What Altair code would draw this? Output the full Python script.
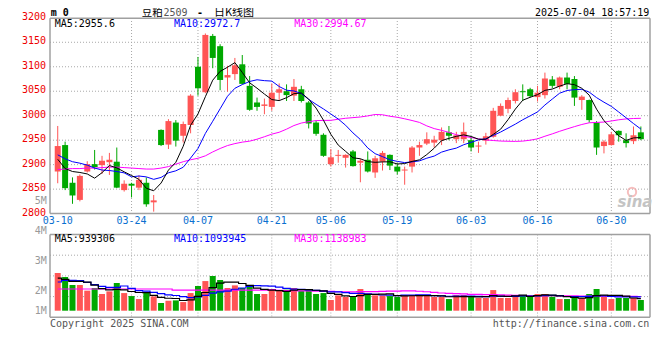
import altair as alt
import pandas as pd

# ---------------- data ----------------
tick_idx = [0, 10, 19, 29, 37, 46, 56, 65, 75]
tick_labels = ["03-10", "03-24", "04-07", "04-21", "05-06", "05-19", "06-03", "06-16", "06-30"]
grid_idx = [10, 19, 29, 37, 46, 56, 65, 75]
price_ticks = [2800, 2850, 2900, 2950, 3000, 3050, 3100, 3150, 3200]
price_grid = [2850, 2900, 2950, 3000, 3050, 3100, 3150]
vol_label_vals = [1, 2, 3, 4, 5]
vol_label_text = ["1M", "2M", "3M", "4M", "5M"]

opens = [2886, 2940, 2863, 2828, 2886, 2901, 2899, 2905, 2906, 2848,
         2861, 2853, 2863, 2823, 2971, 2941, 2986, 2959, 2981, 3100,
         3048, 3163, 3142, 3078, 3085, 3105, 3061, 3027, 3020, 3018,
         3047, 3050, 3041, 3054, 3027, 2986, 2961, 2901, 2918, 2914,
         2927, 2904, 2910, 2884, 2906, 2920, 2896, 2888, 2896, 2935,
         2943, 2945, 2950, 2966, 2952, 2952, 2950, 2937, 2949, 2957,
         3000, 3014, 3030, 3050, 3054, 3038, 3042, 3074, 3059, 3078,
         3075, 3032, 3032, 2986, 2938, 2940, 2969, 2950, 2948, 2966]
highs = [2979, 2947, 2874, 2880, 2907, 2930, 2918, 2924, 2935, 2868,
         2863, 2878, 2874, 2838, 2972, 2993, 2991, 2988, 3044, 3120,
         3168, 3167, 3146, 3102, 3118, 3124, 3081, 3037, 3035, 3066,
         3066, 3064, 3075, 3061, 3030, 2990, 2964, 2932, 2930, 2921,
         2930, 2912, 2927, 2918, 2928, 2921, 2903, 2896, 2938, 2947,
         2966, 2959, 2976, 2979, 2967, 2986, 2957, 2947, 2965, 3016,
         3025, 3037, 3054, 3064, 3057, 3061, 3088, 3081, 3080, 3088,
         3081, 3042, 3033, 2989, 2950, 2967, 2970, 2964, 2978, 2978]
lows = [2862, 2848, 2820, 2825, 2884, 2890, 2881, 2879, 2852, 2845,
        2833, 2848, 2814, 2804, 2938, 2932, 2937, 2945, 2964, 3041,
        3046, 3097, 3052, 3049, 3073, 3064, 3010, 3010, 3003, 3010,
        3030, 3030, 3030, 3027, 2974, 2959, 2916, 2896, 2904, 2894,
        2896, 2864, 2884, 2873, 2888, 2889, 2880, 2859, 2884, 2918,
        2940, 2935, 2940, 2950, 2944, 2944, 2927, 2924, 2941, 2955,
        2999, 3005, 3025, 3030, 3037, 3029, 3035, 3056, 3054, 3054,
        3020, 3012, 2986, 2920, 2923, 2939, 2947, 2935, 2942, 2950]
closes = [2938, 2852, 2837, 2877, 2901, 2895, 2908, 2910, 2853, 2861,
          2857, 2869, 2819, 2827, 2940, 2989, 2949, 2983, 3041, 3056,
          3165, 3118, 3073, 3083, 3103, 3065, 3012, 3018, 3023, 3047,
          3054, 3042, 3059, 3030, 2984, 2963, 2918, 2915, 2920, 2920,
          2897, 2908, 2886, 2913, 2924, 2898, 2886, 2890, 2935, 2940,
          2952, 2951, 2967, 2959, 2960, 2967, 2935, 2939, 2958, 3010,
          3020, 3032, 3048, 3048, 3040, 3047, 3076, 3061, 3078, 3065,
          3037, 3039, 2991, 2935, 2947, 2962, 2960, 2944, 2960, 2952]
# volume, thousand lots
volumes = [2967, 2655, 2022, 2022, 1578, 1786, 1314, 1521, 2183, 1389,
           1153, 917, 1474, 1125, 605, 784, 813, 680, 1389, 1947,
           2334, 2731, 2419, 1786, 1994, 1786, 1994, 1314, 1314, 1710,
           1578, 1654, 1786, 1625, 1682, 1314, 1389, 841, 1210, 1077,
           1077, 1710, 1314, 1210, 1210, 1153, 1077, 1210, 1238, 1238,
           1181, 1077, 1077, 917, 1238, 1238, 1077, 1002, 1002, 1625,
           1002, 1002, 1238, 1238, 1153, 1314, 1314, 1106, 917, 917,
           1002, 1002, 1314, 1710, 1077, 917, 1002, 1002, 1002, 841]

# moving-average values at the start of the window (read from the picture,
# they depend on sessions before 03-10)
ma5_head = [2911, 2892, 2886, 2884]
ma10_head = [2920, 2912, 2906, 2903, 2899, 2893, 2889, 2888, 2886]
ma30_head = [2890, 2891, 2892, 2892, 2893, 2893, 2894, 2895, 2895, 2894,
             2893, 2892, 2891, 2891, 2893, 2896, 2901, 2906, 2910, 2913,
             2918, 2926, 2933, 2939, 2943, 2946, 2948, 2952, 2957]
vma5_head = [2570, 2466, 2306, 2306]
vma10_head = [2259, 2391, 2391, 2363, 2230, 2051, 1918, 1833, 1833]
vma30_head = [1707] * 16 + [1620] * 13


def with_head(values, head, window):
    rolled = pd.Series(values, dtype=float).rolling(window).mean().tolist()
    return list(head) + rolled[len(head):]


n = len(closes)
df = pd.DataFrame({
    "i": list(range(n)),
    "o": opens, "h": highs, "l": lows, "c": closes, "vol": volumes,
})
df["dir"] = ["up" if c >= o else "down" for o, c in zip(opens, closes)]
df["top"] = [max(o, c) for o, c in zip(opens, closes)]
df["bot"] = [min(o, c) for o, c in zip(opens, closes)]
df["v0"] = 0
df["ma5"] = with_head(closes, ma5_head, 5)
df["ma10"] = with_head(closes, ma10_head, 10)
df["ma30"] = with_head(closes, ma30_head, 30)
df["vma5"] = with_head(volumes, vma5_head, 5)
df["vma10"] = with_head(volumes, vma10_head, 10)
df["vma30"] = with_head(volumes, vma30_head, 30)

# ---------------- styling ----------------
RED = "#ff5555"
GREEN = "#00a800"
GRID = "#a8a8a8"
BORDER = "#a0a0a0"
MONO = "DejaVu Sans Mono"
CJK = "Noto Sans CJK SC"
W, H = 600, 300
P_BOTTOM, V_TOP, V_BOTTOM = 195.6, 216.5, 299.3

XS = alt.Scale(domain=[-0.37, 79.56], nice=False, zero=False)
X = alt.X("i:Q", scale=XS, axis=None)
PS = alt.Scale(domain=[2800, 3200], range=[195.6, -0.2], nice=False, zero=False)
VS = alt.Scale(domain=[0, 6000], range=[292.7, 216.5], nice=False, zero=False)
LS = alt.Scale(domain=[4 / 3, 5], range=[292.7, 182.7], clamp=True, nice=False, zero=False)
COL = alt.Color("dir:N", scale=alt.Scale(domain=["up", "down"], range=[RED, GREEN]), legend=None)

one = pd.DataFrame({"a": [0]})


def hline(y, dash=None, color=GRID, width=1):
    kw = dict(color=color, strokeWidth=width)
    if dash:
        kw["strokeDash"] = dash
    return alt.Chart(one).mark_rule(**kw).encode(x=alt.value(0), x2=alt.value(W), y=alt.value(y))


def vline(x, y1, y2, color=BORDER, width=1.5):
    return alt.Chart(one).mark_rule(color=color, strokeWidth=width).encode(
        x=alt.value(x), y=alt.value(y1), y2=alt.value(y2))


def label(text, x, y, color="black", size=10, align="left", font=MONO, weight="normal", style="normal"):
    return alt.Chart(pd.DataFrame({"t": [text]})).mark_text(
        align=align, baseline="middle", fontSize=size, font=font, color=color,
        fontWeight=weight, fontStyle=style).encode(text="t:N", x=alt.value(x), y=alt.value(y))


base = alt.Chart(df)

layers = []
# grid
layers.append(alt.Chart(pd.DataFrame({"p": price_grid})).mark_rule(color=GRID, strokeDash=[1, 2]).encode(
    y=alt.Y("p:Q", scale=PS, axis=None), x=alt.value(0), x2=alt.value(W)))
gdf = pd.DataFrame({"i": grid_idx})
layers.append(alt.Chart(gdf).mark_rule(color=GRID, strokeDash=[1, 2]).encode(
    x=X, y=alt.value(0), y2=alt.value(P_BOTTOM)))
layers.append(alt.Chart(gdf).mark_rule(color=GRID, strokeDash=[1, 2]).encode(
    x=X, y=alt.value(V_TOP), y2=alt.value(V_BOTTOM)))
for yv in [237.2, 257.9, 278.6]:
    layers.append(hline(yv, dash=[1, 2]))
# panel borders
for yv in [0.3, P_BOTTOM, V_TOP, V_BOTTOM]:
    layers.append(hline(yv, color=BORDER, width=1.5))
layers.append(vline(0, 0.3, P_BOTTOM))
layers.append(vline(W, 0.3, P_BOTTOM))
layers.append(vline(0, V_TOP, V_BOTTOM))
layers.append(vline(W, V_TOP, V_BOTTOM))

# watermark
layers.append(alt.Chart(one).mark_point(shape="circle", filled=False, size=70, stroke="#f3a3a3", strokeWidth=2).encode(
    x=alt.value(582), y=alt.value(174)))
layers.append(label("sina", 585, 184, color="#c4c4c4", size=15, align="center",
                    font="DejaVu Sans", weight="bold", style="italic"))

# volume
layers.append(base.mark_bar(size=6, orient="vertical").encode(
    x=X, y=alt.Y("vol:Q", scale=VS, axis=None), y2="v0:Q", color=COL))
for f, c in [("vma30", "#ff00ff"), ("vma10", "#0000ff"), ("vma5", "#000000")]:
    layers.append(base.mark_line(color=c, strokeWidth=1.2, interpolate="step").encode(
        x=X, y=alt.Y(f + ":Q", scale=VS, axis=None)))

# candles
layers.append(base.mark_rule(strokeWidth=1).encode(
    x=X, y=alt.Y("h:Q", scale=PS, axis=None), y2="l:Q", color=COL))
layers.append(base.mark_bar(size=6, orient="vertical").encode(
    x=X, y=alt.Y("top:Q", scale=PS, axis=None), y2="bot:Q", color=COL))
for f, c in [("ma30", "#ff00ff"), ("ma10", "#0000ff"), ("ma5", "#000000")]:
    layers.append(base.mark_line(color=c, strokeWidth=1).encode(
        x=X, y=alt.Y(f + ":Q", scale=PS, axis=None)))

# axis labels
layers.append(alt.Chart(pd.DataFrame({"p": price_ticks, "t": [str(p) for p in price_ticks]})).mark_text(
    align="right", baseline="middle", font=MONO, fontSize=10, color="#ee0000", dy=-1).encode(
    y=alt.Y("p:Q", scale=PS, axis=None), x=alt.value(-4), text="t:N"))
layers.append(alt.Chart(pd.DataFrame({"i": tick_idx, "t": tick_labels})).mark_text(
    align="center", baseline="middle", font=MONO, fontSize=10, color="#0a70d0").encode(
    x=X, y=alt.value(203), text="t:N"))
layers.append(alt.Chart(pd.DataFrame({"v": vol_label_vals, "t": vol_label_text})).mark_text(
    align="right", baseline="middle", font=MONO, fontSize=10, color="#999999").encode(
    y=alt.Y("v:Q", scale=LS, axis=None), x=alt.value(-3.3), text="t:N"))

# header and legends
layers += [
    label("m 0", 0.7, -5.0, size=10, weight="bold"),
    label("豆粕", 91.7, -4.6, size=10.5, font=CJK),
    label("2509", 113.5, -4.6, color="#555555"),
    label("-", 147, -4.6, weight="bold"),
    label("日K线图", 164, -4.6, size=11, font=CJK),
    label("2025-07-04 18:57:19", 599.3, -4.8, align="right"),
    label("MA5:2955.6", 4.7, 5.6),
    label("MA10:2972.7", 124, 5.6, color="#0000ff"),
    label("MA30:2994.67", 244.3, 5.6, color="#ff00ff"),
    label("MA5:939306", 4.7, 220.7),
    label("MA10:1093945", 124, 220.7, color="#0000ff"),
    label("MA30:1138983", 244.3, 220.7, color="#ff00ff"),
    label("Copyright 2025 SINA.COM", 0, 305.5, color="#555555"),
    label("http://finance.sina.com.cn", 599.3, 305.5, color="#555555", align="right"),
]

chart = alt.layer(*layers).resolve_scale(y="independent").properties(
    width=W, height=H,
    autosize=alt.AutoSizeParams(type="none"),
    padding={"left": 42, "top": 10, "right": 2, "bottom": 17},
).configure_view(strokeWidth=0)

chart.save("out.html", embed_options={"renderer": "svg", "actions": False})
